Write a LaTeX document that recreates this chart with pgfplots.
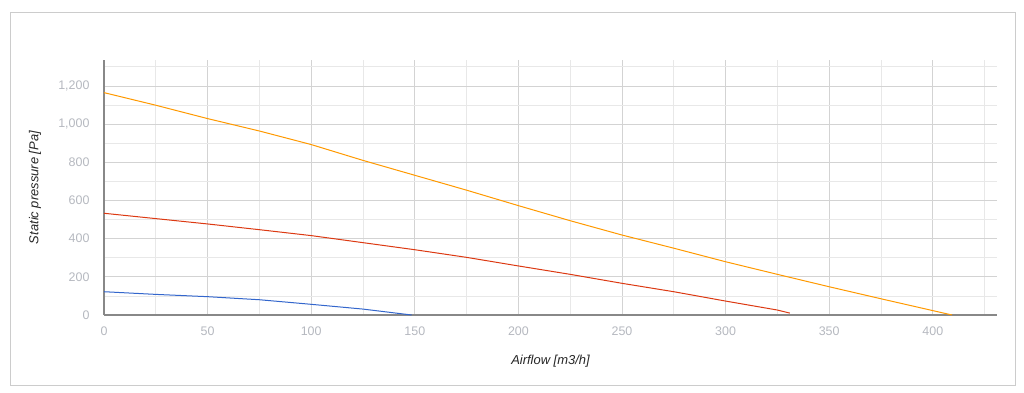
\documentclass[border=0pt]{standalone}
\usepackage{pgfplots}
\pgfplotsset{compat=1.18}
\usepackage{fontspec}
\setmainfont{Liberation Sans}
\definecolor{gblue}{HTML}{3366CC}
\definecolor{gred}{HTML}{DC3912}
\definecolor{gorange}{HTML}{FF9900}
\definecolor{ticklab}{HTML}{B5B8BF}
\definecolor{gridmaj}{HTML}{D3D3D3}
\definecolor{gridmin}{HTML}{E8E8E8}
\definecolor{axcol}{HTML}{888888}
\definecolor{framecol}{HTML}{CCCCCC}
\begin{document}
\begin{tikzpicture}[x=1bp,y=1bp]
\useasboundingbox (0,0) rectangle (1024,392);
\draw[framecol, line width=0.8bp] (10,7) rectangle (1015,380);
\begin{axis}[
  at={(104bp,77bp)}, anchor=origin,
  scale only axis,
  width=893bp, height=255bp,
  xmin=0, xmax=431, ymin=0, ymax=1336,
  axis x line=bottom, axis y line=left,
  axis line style={-, axcol, line width=1.2bp},
  xtick={0,50,...,400}, minor xtick={25,75,...,425},
  ytick={0,200,...,1200}, minor ytick={100,300,...,1300},
  major tick length=0pt, minor tick length=0pt,
  grid=both,
  major grid style={gridmaj, line width=0.8bp},
  minor grid style={gridmin, line width=0.8bp},
  /pgf/number format/assume math mode=true,
  /pgf/number format/1000 sep={,},
  tick label style={font=\fontsize{12.5}{14}\selectfont, text=ticklab},
  xticklabel style={yshift=-8bp},
  yticklabel style={xshift=-11bp},
  label style={font=\fontsize{13}{15}\selectfont\itshape, text=black!85},
  xlabel={Airflow [m3/h]},
  ylabel={Static pressure [Pa]},
  xlabel style={at={(axis description cs:0.5,0)}, anchor=center, yshift=-46bp},
  ylabel style={at={(axis description cs:-0.0773,0.5)}, anchor=center},
  clip=false,
]
\addplot[gorange, line width=1bp] coordinates {
 (0,1165) (25,1099) (50,1029) (75,964) (100,893) (125,810) (150,732) (175,654)
 (200,573) (225,494) (250,419) (275,350) (300,279) (325,213) (350,148) (375,85)
 (400,23) (409.3,0)
};
\addplot[gred, line width=1bp] coordinates {
 (0,533) (25,505) (50,477) (75,447) (100,416) (125,379) (150,342) (175,302)
 (200,257) (225,213) (250,166) (275,122) (300,73) (325,26) (331,10)
};
\addplot[gblue, line width=1bp] coordinates {
 (0,122) (25,108) (50,96) (75,80) (100,56) (125,31) (148.5,0)
};
\end{axis}
\end{tikzpicture}
\end{document}
